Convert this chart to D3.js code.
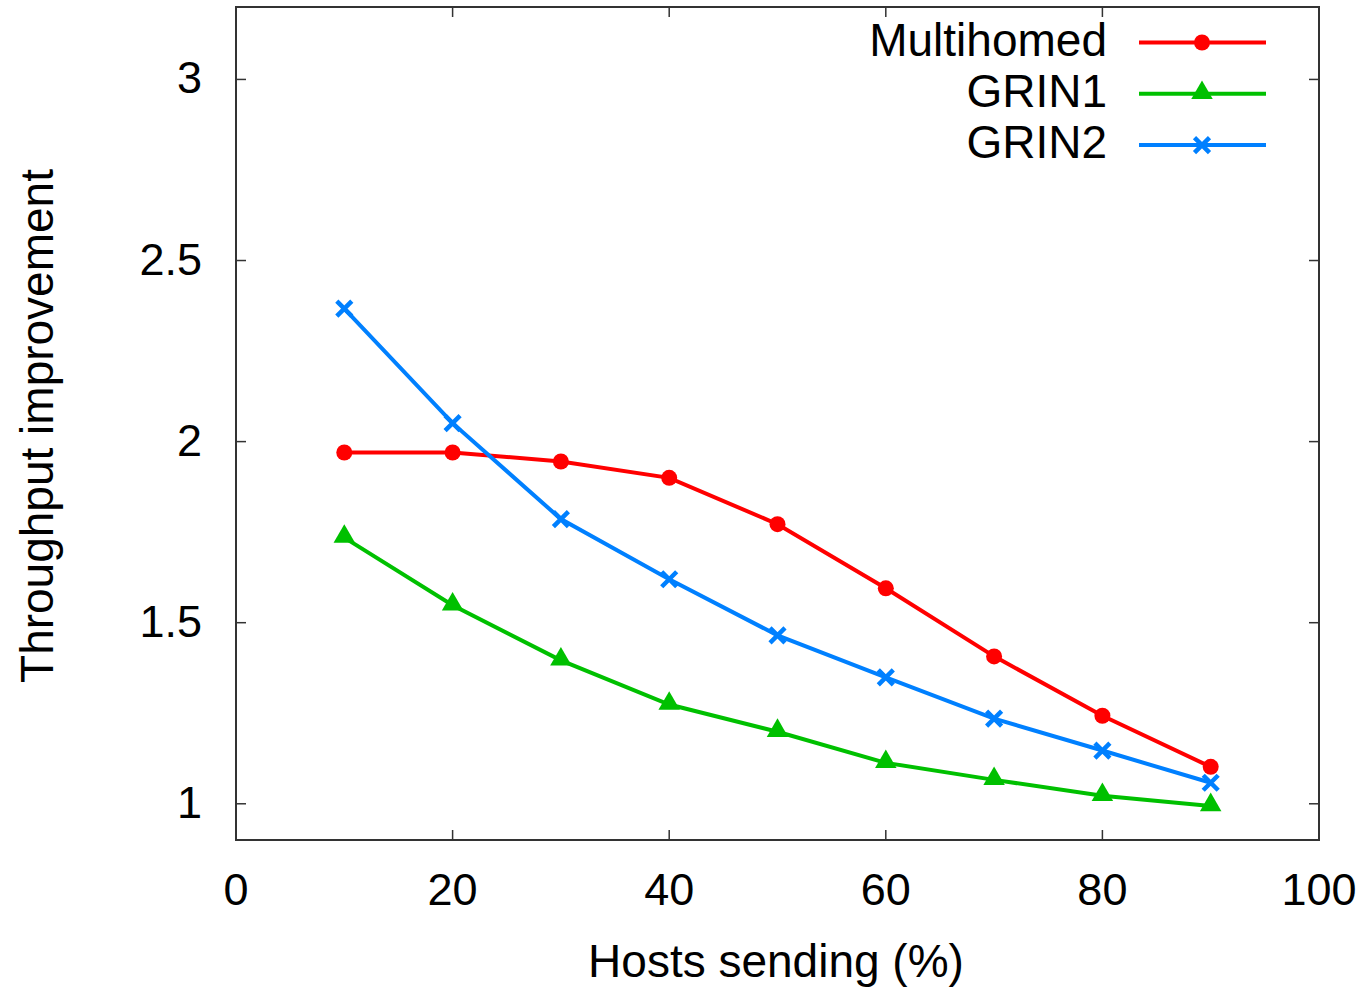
<!DOCTYPE html>
<html>
<head>
<meta charset="utf-8">
<script src="https://cdn.jsdelivr.net/npm/d3@7"></script>
<style>
  body { margin: 0; background: #fff; }
  text { font-family: "Liberation Sans", Arial, sans-serif; }
</style>
</head>
<body>
<div id="canvas"></div>
<script>
"use strict"

// data
let hosts = [10, 20, 30, 40, 50, 60, 70, 80, 90]
let multihomed = [1.97, 1.97, 1.945, 1.90, 1.772, 1.595, 1.407, 1.243, 1.102]
let grin1 = [1.735, 1.548, 1.396, 1.274, 1.199, 1.113, 1.066, 1.022, 0.994]
let grin2 = [2.367, 2.051, 1.786, 1.62, 1.465, 1.349, 1.235, 1.147, 1.058]
let xTicks = [0, 20, 40, 60, 80, 100]
let yTicks = [1, 1.5, 2, 2.5, 3]

let seriesNames = ["Multihomed", "GRIN1", "GRIN2"]
let seriesValues = [multihomed, grin1, grin2]
let seriesColors = ["#ff0000", "#00c000", "#0080ff"]
let seriesMarks = ["circle", "triangle", "cross"]

let drawing = d3.select("#canvas")
    .append("svg")
    .attr("width", 1364)
    .attr("height", 991)

let plotLeft = 236, plotRight = 1319, plotTop = 7, plotBottom = 840

let x = d3.scaleLinear().domain([0, 100]).range([plotLeft, plotRight])
let y = d3.scaleLinear().domain([0.9, 3.2]).range([plotBottom, plotTop])

// ticks (inward, mirrored)
let tickLen = 10
let tickColor = "#333"
let tickFont = 45
let titleFont = 46

xTicks.forEach(function (t) {
    drawing.append("line")
        .attr("x1", x(t)).attr("x2", x(t))
        .attr("y1", plotBottom).attr("y2", plotBottom - tickLen)
        .attr("stroke", tickColor).attr("stroke-width", 1.5)
    drawing.append("line")
        .attr("x1", x(t)).attr("x2", x(t))
        .attr("y1", plotTop).attr("y2", plotTop + tickLen)
        .attr("stroke", tickColor).attr("stroke-width", 1.5)
    drawing.append("text")
        .attr("x", x(t))
        .attr("y", plotBottom + 65)
        .attr("text-anchor", "middle")
        .attr("font-size", tickFont)
        .text(t)
})

yTicks.forEach(function (t) {
    drawing.append("line")
        .attr("x1", plotLeft).attr("x2", plotLeft + tickLen)
        .attr("y1", y(t)).attr("y2", y(t))
        .attr("stroke", tickColor).attr("stroke-width", 1.5)
    drawing.append("line")
        .attr("x1", plotRight).attr("x2", plotRight - tickLen)
        .attr("y1", y(t)).attr("y2", y(t))
        .attr("stroke", tickColor).attr("stroke-width", 1.5)
    drawing.append("text")
        .attr("x", 202)
        .attr("y", y(t) + 14)
        .attr("text-anchor", "end")
        .attr("font-size", tickFont)
        .text(t)
})

// frame
drawing.append("rect")
    .attr("x", plotLeft).attr("y", plotTop)
    .attr("width", plotRight - plotLeft).attr("height", plotBottom - plotTop)
    .attr("fill", "none")
    .attr("stroke", tickColor)
    .attr("stroke-width", 2)

// axis titles
drawing.append("text")
    .attr("x", 776)
    .attr("y", 977)
    .attr("text-anchor", "middle")
    .attr("font-size", titleFont)
    .text("Hosts sending (%)")

drawing.append("text")
    .attr("transform", "translate(53," + 426 + ") rotate(-90)")
    .attr("text-anchor", "middle")
    .attr("font-size", titleFont)
    .text("Throughput improvement")

function drawMark(g, kind, cx, cy, color) {
    if (kind === "circle") {
        g.append("circle")
            .attr("cx", cx).attr("cy", cy).attr("r", 8)
            .attr("fill", color)
    } else if (kind === "triangle") {
        g.append("path")
            .attr("d", d3.symbol().type(d3.symbolTriangle).size(200)())
            .attr("transform", "translate(" + cx + "," + (cy - 1) + ")")
            .attr("fill", color)
    } else {
        let s = 7.5
        g.append("path")
            .attr("d", "M" + (cx - s) + "," + (cy - s) + "L" + (cx + s) + "," + (cy + s) +
                "M" + (cx - s) + "," + (cy + s) + "L" + (cx + s) + "," + (cy - s))
            .attr("stroke", color)
            .attr("stroke-width", 4.5)
    }
}

let line = d3.line()
    .x(function (d, i) { return x(hosts[i]) })
    .y(function (d) { return y(d) })

seriesValues.forEach(function (vals, k) {
    let g = drawing.append("g")
    g.append("path")
        .attr("d", line(vals))
        .attr("fill", "none")
        .attr("stroke", seriesColors[k])
        .attr("stroke-width", 4)
    vals.forEach(function (v, i) {
        drawMark(g, seriesMarks[k], x(hosts[i]), y(v), seriesColors[k])
    })
})

// legend
seriesNames.forEach(function (name, k) {
    let ly = 42.5 + k * 51.3
    drawing.append("text")
        .attr("x", 1107)
        .attr("y", ly + 13)
        .attr("text-anchor", "end")
        .attr("font-size", titleFont)
        .text(name)
    drawing.append("line")
        .attr("x1", 1139).attr("x2", 1266)
        .attr("y1", ly).attr("y2", ly)
        .attr("stroke", seriesColors[k])
        .attr("stroke-width", 4)
    drawMark(drawing, seriesMarks[k], 1202, ly, seriesColors[k])
})
</script>
</body>
</html>
